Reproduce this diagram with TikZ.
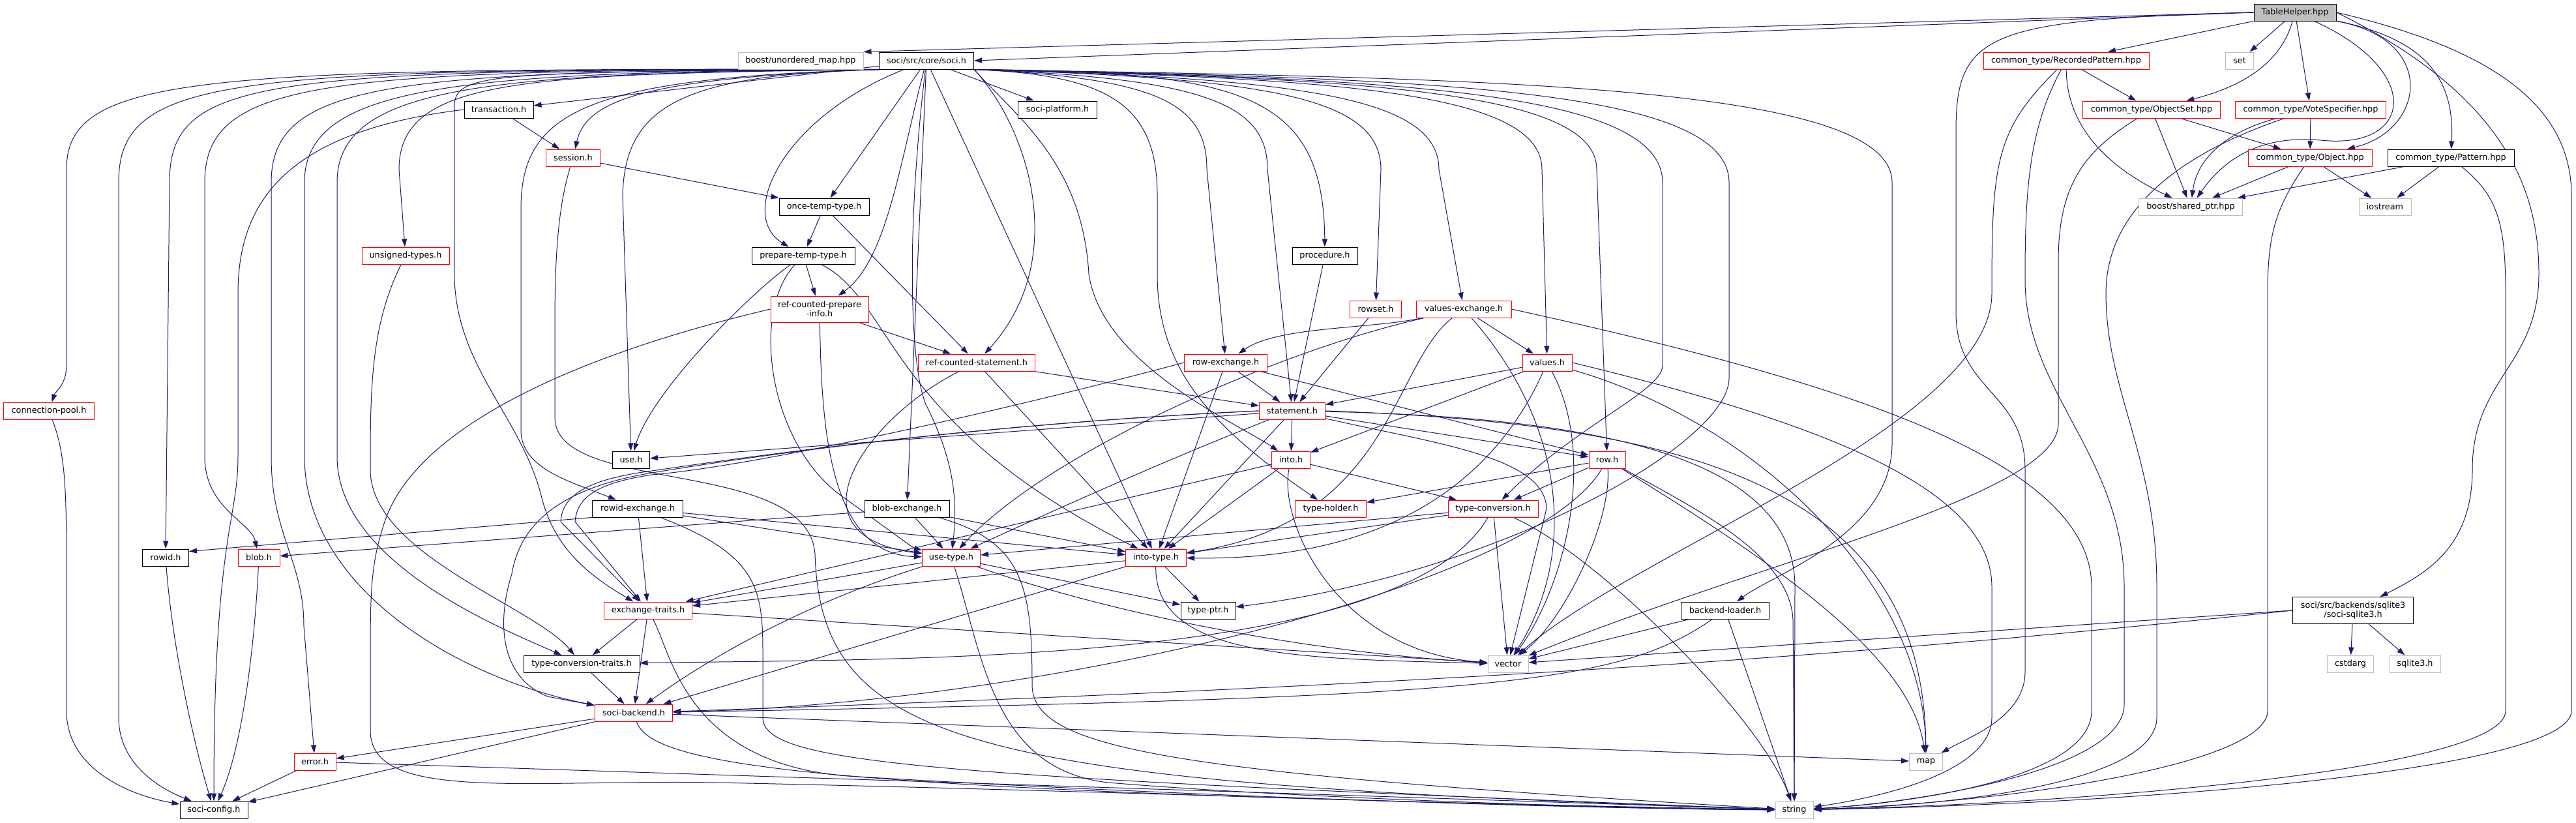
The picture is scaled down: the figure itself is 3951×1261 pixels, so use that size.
\documentclass[tikz,border=0pt]{standalone}
\usepackage{fontspec}
\setmainfont{DejaVu Sans}
\usetikzlibrary{arrows.meta,positioning}
\definecolor{edgeblue}{RGB}{25,25,112}
\definecolor{extgray}{RGB}{191,191,191}
\definecolor{truncred}{RGB}{255,0,0}
\pgfdeclarelayer{edgelayer}
\pgfsetlayers{edgelayer,main}
\tikzstyle{hdr}=[draw=black,fill=white,line width=0.75pt,inner sep=0pt,minimum height=19.5pt,font=\fontsize{9.6}{10.8}\selectfont]
\tikzstyle{trunc}=[hdr,draw=truncred]
\tikzstyle{ext}=[hdr,draw=extgray]
\tikzstyle{mainfile}=[hdr,fill=extgray]
\tikzstyle{dep}=[draw=edgeblue,line width=0.75pt,-{Triangle[length=9pt,width=6pt]}]
\tikzstyle{deps}=[every edge/.style={dep}]
\tikzset{wd/.style={minimum width=#1*0.75pt}}

\begin{document}
\begin{tikzpicture}[x=0.75pt,y=-0.75pt,deps]
\useasboundingbox (0,0) rectangle (3951,1261);

\node[mainfile,wd=126] (TH) at (3520,19) {TableHelper.hpp};
\node[ext,wd=192] (unord) at (1228,93) {boost/unordered\_map.hpp};
\node[hdr,wd=145] (soci) at (1421,93) {soci/src/core/soci.h};
\node[trunc,wd=254] (recpat) at (3169,93) {common\_type/RecordedPattern.hpp};
\node[ext,wd=43] (set) at (3435,93) {set};
\node[hdr,wd=106] (transact) at (765,168) {transaction.h};
\node[hdr,wd=121] (platform) at (1622,168) {soci-platform.h};
\node[trunc,wd=211] (objset) at (3300,168) {common\_type/ObjectSet.hpp};
\node[trunc,wd=231] (votespec) at (3544,168) {common\_type/VoteSpecifier.hpp};
\node[trunc,wd=83] (session) at (879,242) {session.h};
\node[trunc,wd=190] (object) at (3543,242) {common\_type/Object.hpp};
\node[hdr,wd=194] (pattern) at (3759,242) {common\_type/Pattern.hpp};
\node[hdr,wd=138] (oncetemp) at (1264,317) {once-temp-type.h};
\node[ext,wd=159] (sharedptr) at (3360,317) {boost/shared\_ptr.hpp};
\node[ext,wd=80] (iostream) at (3658,317) {iostream};
\node[trunc,wd=134] (unsigned) at (622,392) {unsigned-types.h};
\node[hdr,wd=158] (preptemp) at (1232,392) {prepare-temp-type.h};
\node[hdr,wd=100] (procedure) at (2032,392) {procedure.h};
\node[trunc,wd=150,minimum height=30pt,align=center] (rcpi) at (1257,474) {ref-counted-prepare\\-info.h};
\node[trunc,wd=79] (rowset) at (2110,474) {rowset.h};
\node[trunc,wd=146] (valex) at (2245,474) {values-exchange.h};
\node[trunc,wd=179] (rcstmt) at (1498,556) {ref-counted-statement.h};
\node[trunc,wd=127] (rowex) at (1880,556) {row-exchange.h};
\node[trunc,wd=76] (values) at (2373,556) {values.h};
\node[trunc,wd=139] (connpool) at (75,630) {connection-pool.h};
\node[trunc,wd=101] (statement) at (1982,630) {statement.h};
\node[hdr,wd=57] (useh) at (968,705) {use.h};
\node[trunc,wd=59] (into) at (1980,705) {into.h};
\node[trunc,wd=56] (row) at (2465,705) {row.h};
\node[hdr,wd=139] (rowidex) at (978,780) {rowid-exchange.h};
\node[hdr,wd=130] (blobex) at (1391,780) {blob-exchange.h};
\node[trunc,wd=109] (typeholder) at (2041,780) {type-holder.h};
\node[trunc,wd=138] (typeconv) at (2290,780) {type-conversion.h};
\node[hdr,wd=71] (rowid) at (254,855) {rowid.h};
\node[trunc,wd=64] (blob) at (397,855) {blob.h};
\node[trunc,wd=89] (usetype) at (1459,855) {use-type.h};
\node[trunc,wd=93] (intotype) at (1773,855) {into-type.h};
\node[trunc,wd=135] (exch) at (994,936) {exchange-traits.h};
\node[hdr,wd=84] (typeptr) at (1853,936) {type-ptr.h};
\node[hdr,wd=135] (loader) at (2646,936) {backend-loader.h};
\node[hdr,wd=185,minimum height=30.75pt,align=center] (sqlite) at (3609,936) {soci/src/backends/sqlite3\\/soci-sqlite3.h};
\node[hdr,wd=178] (tctraits) at (892,1018) {type-conversion-traits.h};
\node[ext,wd=62] (vector) at (2313,1018) {vector};
\node[ext,wd=71] (cstdarg) at (3605,1018) {cstdarg};
\node[ext,wd=78] (sqlite3h) at (3704,1018) {sqlite3.h};
\node[trunc,wd=119] (backend) at (972,1093) {soci-backend.h};
\node[trunc,wd=64] (error) at (483,1168) {error.h};
\node[ext,wd=51] (map) at (2954,1168) {map};
\node[hdr,wd=104] (config) at (328,1242) {soci-config.h};
\node[ext,wd=58] (string) at (2752,1242) {string};

\begin{pgfonlayer}{edgelayer}
% TableHelper.hpp
\path (TH.west) edge (unord.north east)
      (TH.west) edge (soci.east)
      (TH) edge (recpat) (TH) edge (set) (TH) edge (votespec);
\draw[dep] (TH) .. controls (3500,90) and (3450,130) .. (objset);
\draw[dep] (TH.south east) .. controls (3740,60) and (3720,200) .. (object);
\draw[dep] (TH) .. controls (3720,60) and (3765,120) .. (pattern);
\draw[dep] (TH) .. controls (3720,110) and (3700,230) .. (3560,215) .. controls (3450,205) and (3400,260) .. (sharedptr);
\draw[dep] (TH.west) .. controls (3050,30) and (3000,50) .. (3000,200) -- (3000,480) .. controls (3000,600) and (3106,600) .. (3106,720) -- (3106,1030) .. controls (3106,1100) and (3020,1130) .. (map);
\draw[dep] (TH.east) .. controls (3800,70) and (3944,150) .. (3944,300) -- (3944,1090) .. controls (3944,1180) and (3300,1232) .. (string);
\draw[dep] (TH.east) .. controls (3850,150) and (3894,300) .. (3894,420) .. controls (3894,560) and (3792,580) .. (3792,720) .. controls (3792,840) and (3720,880) .. (sqlite);

% common_type
\path (recpat) edge (objset)
      (objset) edge (object) (objset) edge (sharedptr)
      (votespec) edge (object)
      (object) edge (sharedptr) (object) edge (iostream)
      (pattern) edge (sharedptr) (pattern) edge (iostream);
\draw[dep] (recpat) .. controls (3170,200) and (3240,260) .. (sharedptr);
\draw[dep] (recpat) .. controls (3060,200) and (3055,250) .. (3055,450) .. controls (3055,650) and (2500,850) .. (vector);
\draw[dep] (recpat) .. controls (3110,200) and (3106,300) .. (3106,430) .. controls (3106,600) and (3258,700) .. (3258,900) -- (3258,1080) .. controls (3258,1180) and (2950,1230) .. (string);
\draw[dep] (objset) .. controls (3200,230) and (3157,280) .. (3157,400) -- (3157,650) .. controls (3157,760) and (2700,860) .. (vector);
\draw[dep] (votespec) .. controls (3420,200) and (3370,240) .. (sharedptr);
\draw[dep] (votespec) .. controls (3330,240) and (3230,330) .. (3230,450) .. controls (3230,600) and (3308,700) .. (3308,900) -- (3308,1100) .. controls (3308,1200) and (3000,1235) .. (string);
\draw[dep] (object) .. controls (3490,320) and (3478,360) .. (3478,450) -- (3478,1090) .. controls (3478,1170) and (3100,1230) .. (string);
\draw[dep] (pattern) .. controls (3830,300) and (3843,340) .. (3843,450) -- (3843,1090) .. controls (3843,1180) and (3200,1232) .. (string);

% sqlite3 backend
\path (sqlite) edge (cstdarg) (sqlite) edge (sqlite3h) (sqlite.west) edge (vector);
\draw[dep] (sqlite.west) .. controls (3000,990) and (2400,1045) .. (backend);

% soci.h
\path (soci) edge (platform) (soci) edge (transact) (soci) edge (oncetemp)
      (soci) edge (blobex) (soci) edge (intotype);
\draw[dep] (soci.south west) .. controls (1000,120) and (900,150) .. (session);
\draw[dep] (soci) .. controls (1200,180) and (1130,330) .. (preptemp);
\draw[dep] (soci) .. controls (1380,250) and (1360,400) .. (rcpi);
\draw[dep] (soci.south east) .. controls (1580,200) and (1640,400) .. (rcstmt);
\draw[dep] (soci) .. controls (1390,350) and (1395,560) .. (1420,620) .. controls (1460,700) and (1470,760) .. (usetype);
\draw[dep] (soci.south east) .. controls (1560,180) and (1660,250) .. (1670,420) .. controls (1690,560) and (1900,650) .. (into);
\draw[dep] (soci.south east) .. controls (1700,115) and (1775,160) .. (1775,300) -- (1775,420) .. controls (1775,560) and (1850,650) .. (typeholder);
\draw[dep] (soci.south east) .. controls (1780,120) and (1851,160) .. (1851,260) -- (rowex);
\draw[dep] (soci.south east) .. controls (1850,120) and (1944,160) .. (1944,260) -- (statement);
\draw[dep] (soci.south east) .. controls (1900,110) and (2030,140) .. (procedure);
\draw[dep] (soci.south east) .. controls (1950,120) and (2118,150) .. (2118,260) -- (rowset);
\draw[dep] (soci.south east) .. controls (2000,120) and (2207,150) .. (2207,260) -- (valex);
\draw[dep] (soci.south east) .. controls (2050,120) and (2365,140) .. (2365,260) -- (values);
\draw[dep] (soci.south east) .. controls (2100,120) and (2449,140) .. (2449,260) -- (row);
\draw[dep] (soci.south east) .. controls (2150,120) and (2550,140) .. (2550,280) -- (2550,560) .. controls (2550,600) and (2420,650) .. (typeconv);
\draw[dep] (soci.south east) .. controls (2200,120) and (2652,135) .. (2652,280) -- (2652,580) .. controls (2652,680) and (2300,880) .. (typeptr);
\draw[dep] (soci.south east) .. controls (2300,120) and (2902,130) .. (2902,280) -- (2902,680) .. controls (2902,820) and (2720,880) .. (loader);
\draw[dep] (soci.south west) .. controls (300,104) and (102,115) .. (102,260) -- (102,560) .. controls (102,590) and (85,600) .. (connpool);
\draw[dep] (soci.south west) .. controls (350,105) and (182,115) .. (182,280) -- (182,1100) .. controls (182,1180) and (260,1215) .. (config);
\draw[dep] (soci.south west) .. controls (400,106) and (260,118) .. (260,280) -- (rowid);
\draw[dep] (soci.south west) .. controls (500,107) and (314,120) .. (314,280) -- (314,700) .. controls (314,780) and (385,800) .. (blob);
\draw[dep] (soci.south west) .. controls (600,108) and (416,125) .. (416,280) -- (416,700) .. controls (416,820) and (466,860) .. (466,960) -- (error);
\draw[dep] (soci.south west) .. controls (700,110) and (467,130) .. (467,280) -- (467,700) .. controls (467,900) and (700,1040) .. (backend);
\draw[dep] (soci.south west) .. controls (750,112) and (517,130) .. (517,280) -- (517,700) .. controls (517,860) and (760,960) .. (tctraits);
\draw[dep] (soci.south west) .. controls (800,114) and (612,120) .. (612,260) -- (unsigned);
\draw[dep] (soci.south west) .. controls (760,110) and (700,112) .. (697,160) -- (697,420) .. controls (697,560) and (800,640) .. (830,760) .. controls (850,840) and (900,880) .. (exch);
\draw[dep] (soci.south west) .. controls (900,120) and (799,170) .. (799,320) -- (799,660) .. controls (799,720) and (880,740) .. (rowidex);
\draw[dep] (soci.south west) .. controls (1050,115) and (958,160) .. (955,300) -- (useh);

% core headers
\path (transact) edge (session)
      (session) edge (oncetemp)
      (oncetemp) edge (rcstmt) (oncetemp) edge (preptemp)
      (preptemp) edge (rcpi)
      (rcpi) edge (rcstmt)
      (rcstmt) edge (statement) (rcstmt) edge (intotype)
      (procedure) edge (statement)
      (rowset) edge (statement)
      (valex) edge (values)
      (values) edge (statement) (values) edge (into)
      (rowex) edge (statement) (rowex) edge (intotype) (rowex) edge (row)
      (statement) edge (useh) (statement) edge (into) (statement) edge (intotype) (statement) edge (row)
      (into) edge (intotype) (into) edge (exch) (into) edge (typeconv)
      (row) edge (typeholder) (row) edge (typeconv)
      (typeconv) edge (intotype) (typeconv) edge (usetype) (typeconv) edge (vector)
      (blobex) edge (blob) (blobex) edge (usetype) (blobex) edge (intotype)
      (rowidex.south west) edge ([yshift=-3pt]rowid.north east)
      (rowidex) edge (usetype) (rowidex) edge (intotype) (rowidex) edge (exch)
      (usetype) edge (exch) (usetype) edge (typeptr)
      (intotype) edge (exch) (intotype) edge (backend) (intotype) edge (typeptr)
      (exch) edge (tctraits) (exch) edge (backend) (exch) edge (vector)
      (tctraits) edge (backend)
      (backend) edge (error) (backend) edge (config) (backend) edge (map)
      (error) edge (config) (error) edge (string)
      (loader) edge (vector) (loader) edge (string);
\draw[dep] (transact.west) .. controls (450,200) and (365,300) .. (365,450) -- (365,700) .. controls (365,800) and (328,820) .. (config);
\draw[dep] (session) .. controls (855,320) and (851,400) .. (851,500) -- (851,640) .. controls (851,760) and (1240,700) .. (1250,850) .. controls (1260,1150) and (1500,1200) .. (string);
\draw[dep] (unsigned) .. controls (568,500) and (568,600) .. (568,720) .. controls (568,850) and (820,930) .. (tctraits);
\draw[dep] (preptemp) .. controls (1150,450) and (1000,600) .. (useh);
\draw[dep] (preptemp) .. controls (1150,480) and (1180,680) .. (1290,760) .. controls (1360,810) and (1400,840) .. (usetype);
\draw[dep] (preptemp) .. controls (1370,460) and (1360,650) .. (intotype);
\draw[dep] (rcpi) .. controls (1260,650) and (1270,850) .. (usetype);
\draw[dep] (rcpi.west) .. controls (900,540) and (640,650) .. (590,800) .. controls (570,860) and (568,900) .. (568,1000) -- (568,1120) .. controls (568,1230) and (800,1195) .. (1100,1200) .. controls (1800,1215) and (2400,1240) .. (string);
\draw[dep] (rcstmt) .. controls (1330,640) and (1200,820) .. (usetype);
\draw[dep] (values) .. controls (2300,720) and (2150,860) .. (intotype);
\draw[dep] (values) .. controls (2450,700) and (2400,900) .. (vector);
\draw[dep] (values) .. controls (2700,650) and (2950,900) .. (map);
\draw[dep] (values.east) .. controls (2800,650) and (3055,750) .. (3055,900) -- (3055,1100) .. controls (3055,1180) and (2900,1220) .. (string);
\draw[dep] (valex) .. controls (2100,505) and (1960,500) .. (rowex);
\draw[dep] (valex) .. controls (1950,540) and (1600,700) .. (usetype);
\draw[dep] (valex) .. controls (2134,560) and (2134,800) .. (intotype);
\draw[dep] (valex) .. controls (2400,650) and (2420,850) .. (vector);
\draw[dep] (valex.east) .. controls (2800,580) and (3208,700) .. (3208,900) -- (3208,1090) .. controls (3208,1190) and (2950,1230) .. (string);
\draw[dep] (rowex.west) .. controls (1500,640) and (1150,715) .. (1000,728) .. controls (920,740) and (885,760) .. (882,800) -- (exch);
\draw[dep] (statement) .. controls (1800,700) and (1600,790) .. (usetype);
\draw[dep] (statement.west) .. controls (1500,650) and (1150,700) .. (1000,722) .. controls (900,735) and (862,760) .. (860,800) -- (exch);
\draw[dep] (statement.west) .. controls (1500,650) and (1150,700) .. (1000,725) .. controls (880,745) and (800,790) .. (785,880) .. controls (760,960) and (770,1040) .. (840,1068) -- (backend);
\draw[dep] (statement) .. controls (2200,680) and (2370,700) .. (2372,780) -- (vector);
\draw[dep] (statement.east) .. controls (2600,650) and (2950,750) .. (map);
\draw[dep] (statement) .. controls (2450,640) and (2753,700) .. (2753,900) -- (string);
\draw[dep] (into) .. controls (1960,800) and (2050,1000) .. (vector);
\draw[dep] (row) .. controls (2350,900) and (1600,1080) .. (backend);
\draw[dep] (row) .. controls (2472,800) and (2400,950) .. (vector);
\draw[dep] (row) .. controls (2700,850) and (2930,1000) .. (map);
\draw[dep] (row) .. controls (2600,780) and (2745,850) .. (2750,950) -- (string);
\draw[dep] (typeconv) .. controls (2150,1020) and (1400,1010) .. (tctraits);
\draw[dep] (typeconv) .. controls (2450,850) and (2700,1100) .. (string);
\draw[dep] (blobex) .. controls (1570,830) and (1583,900) .. (1583,1050) .. controls (1583,1150) and (1800,1185) .. (string);
\draw[dep] (rowidex) .. controls (1160,850) and (1170,900) .. (1170,1000) -- (1170,1100) .. controls (1170,1170) and (1400,1190) .. (string);
\draw[dep] (usetype) .. controls (1250,920) and (1100,1000) .. (backend);
\draw[dep] (usetype) .. controls (1700,940) and (2000,1000) .. (vector);
\draw[dep] (usetype) .. controls (1507,1000) and (1520,1180) .. (1700,1200) .. controls (2000,1225) and (2500,1240) .. (string);
\draw[dep] (intotype) .. controls (1770,1010) and (2000,1010) .. (vector);
\draw[dep] (exch) .. controls (1030,1000) and (1050,1170) .. (1300,1190) .. controls (1800,1220) and (2400,1240) .. (string);
\draw[dep] (backend) .. controls (1000,1180) and (1300,1215) .. (string);
\draw[dep] (loader) .. controls (2480,1050) and (2300,1070) .. (backend);
\draw[dep] (connpool) .. controls (102,700) and (102,760) .. (102,900) -- (102,1090) .. controls (102,1180) and (200,1220) .. (config);
\draw[dep] (rowid) .. controls (265,1000) and (300,1150) .. (config);
\draw[dep] (blob) .. controls (390,1000) and (370,1150) .. (config);
\end{pgfonlayer}

\end{tikzpicture}
\end{document}
